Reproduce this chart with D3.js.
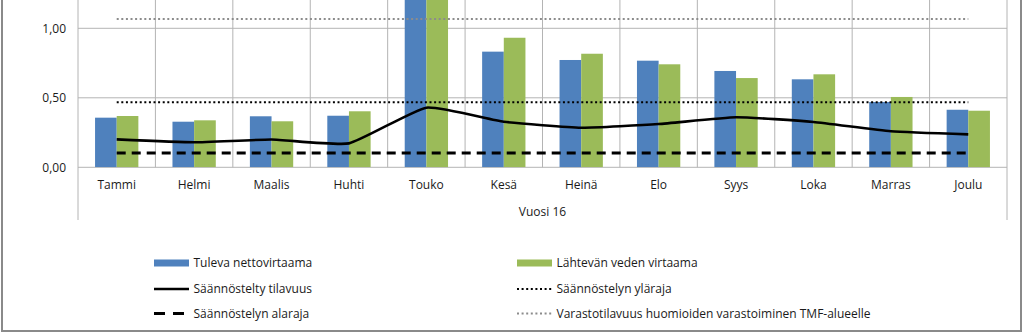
<!DOCTYPE html>
<html><head><meta charset="utf-8">
<script src="https://cdn.jsdelivr.net/npm/d3@7"></script>
<style>
html,body{margin:0;padding:0;background:#fff;}
svg{display:block;font-family:"Open Sans",sans-serif;}
</style></head>
<body>
<svg id="c" width="1024" height="334"></svg>
<script>
const months = ["Tammi","Helmi","Maalis","Huhti","Touko","Kesä","Heinä","Elo","Syys","Loka","Marras","Joulu"];
const tulevaNetto = [0.357,0.328,0.367,0.371,1.6,0.832,0.772,0.767,0.693,0.633,0.470,0.414];
const lahtevaVesi = [0.369,0.338,0.331,0.403,1.6,0.932,0.817,0.741,0.642,0.669,0.506,0.407];
const saannosteltyTilavuus = [0.201,0.180,0.200,0.172,0.429,0.328,0.285,0.311,0.360,0.326,0.259,0.237];
const ylaraja = [0.468,0.468,0.468,0.468,0.468,0.468,0.468,0.468,0.468,0.468,0.468,0.468];
const alaraja = [0.103,0.103,0.103,0.103,0.103,0.103,0.103,0.103,0.103,0.103,0.103,0.103];
const varastoTMF = [1.067,1.067,1.067,1.067,1.067,1.067,1.067,1.067,1.067,1.067,1.067,1.067];
const yTicks = [0,0.5,1.0];
const yTickLabels = ["0,00","0,50","1,00"];
const groupLabel = "Vuosi 16";
const seriesNames = ["Tuleva nettovirtaama","Lähtevän veden virtaama","Säännöstelty tilavuus","Säännöstelyn yläraja","Säännöstelyn alaraja","Varastotilavuus huomioiden varastoiminen TMF-alueelle"];

const svg = d3.select("#c");
const L = 78, R = 1007, T = 0, B = 167.3, axisBottom = 220;
const BLUE = "#4F81BD", GREEN = "#9BBB59", GRID = "#b4b4b4", TXT = "#1a1a1a";

const x = d3.scaleBand().domain(months).range([L, R]).padding(0);
const x1 = d3.scaleBand().domain(["a","b"]).range([0, x.bandwidth()]).paddingInner(0).paddingOuter(0.7875);
const y = d3.scaleLinear().domain([0, 1.2]).range([B, 0.5]);

// outer frame
svg.append("rect").attr("x",2).attr("y",-5).attr("width",1019).attr("height",336)
  .attr("fill","none").attr("stroke","#8a8a8a").attr("stroke-width",2);

svg.append("clipPath").attr("id","clip").append("rect")
  .attr("x",L).attr("y",T).attr("width",R-L).attr("height",B-T);

// grid horizontal
svg.append("g").selectAll("line").data(yTicks).join("line")
  .attr("x1",L).attr("x2",R).attr("y1",d=>y(d)).attr("y2",d=>y(d))
  .attr("stroke",GRID).attr("stroke-width",1);
// vertical category separators
svg.append("g").selectAll("line").data(months.slice(1)).join("line")
  .attr("x1",d=>x(d)).attr("x2",d=>x(d)).attr("y1",T).attr("y2",B)
  .attr("stroke",GRID).attr("stroke-width",1);
// outer plot verticals extending to group axis
svg.append("line").attr("x1",L).attr("x2",L).attr("y1",T).attr("y2",axisBottom).attr("stroke",GRID);
svg.append("line").attr("x1",R).attr("x2",R).attr("y1",T).attr("y2",axisBottom).attr("stroke",GRID);

// y tick labels
svg.append("g").selectAll("text").data(yTicks).join("text")
  .attr("x",66).attr("y",d=>y(d)).attr("dy","0.35em").attr("text-anchor","end")
  .attr("font-size",12).attr("fill",TXT).text((d,i)=>yTickLabels[i]);

// bars
const gb = svg.append("g").attr("clip-path","url(#clip)");
gb.selectAll("rect.a").data(months).join("rect").attr("class","a")
  .attr("x",d=>x(d)+x1("a")).attr("width",x1.bandwidth())
  .attr("y",(d,i)=>y(tulevaNetto[i])).attr("height",(d,i)=>y(0)-y(tulevaNetto[i]))
  .attr("fill",BLUE);
gb.selectAll("rect.b").data(months).join("rect").attr("class","b")
  .attr("x",d=>x(d)+x1("b")).attr("width",x1.bandwidth())
  .attr("y",(d,i)=>y(lahtevaVesi[i])).attr("height",(d,i)=>y(0)-y(lahtevaVesi[i]))
  .attr("fill",GREEN);

const cx = d => x(d) + x.bandwidth()/2;
const lineGen = (arr, curve) => d3.line().x((d,i)=>cx(months[i])).y(d=>y(d)).curve(curve)(arr);

svg.append("path").attr("d",lineGen(varastoTMF,d3.curveLinear)).attr("fill","none")
  .attr("stroke","#8c8c8c").attr("stroke-width",2).attr("stroke-dasharray","2 2.6");
svg.append("path").attr("d",lineGen(ylaraja,d3.curveLinear)).attr("fill","none")
  .attr("stroke","#000").attr("stroke-width",2.2).attr("stroke-dasharray","2 2.6");
svg.append("path").attr("d",lineGen(alaraja,d3.curveLinear)).attr("fill","none")
  .attr("stroke","#000").attr("stroke-width",3).attr("stroke-dasharray","9 6");
svg.append("path").attr("d",lineGen(saannosteltyTilavuus,d3.curveCardinal.tension(0.55))).attr("fill","none")
  .attr("stroke","#000").attr("stroke-width",2.6).attr("stroke-linejoin","round");

// x labels
svg.append("g").selectAll("text").data(months).join("text")
  .attr("x",d=>cx(d)).attr("y",185).attr("dy","0.35em").attr("text-anchor","middle")
  .attr("font-size",12).attr("fill",TXT).text(d=>d);
svg.append("text").attr("x",(L+R)/2).attr("y",211.5).attr("dy","0.35em").attr("text-anchor","middle")
  .attr("font-size",12).attr("fill",TXT).text(groupLabel);

// legend
const leg = [
  {col:0,row:0,type:"rect",color:BLUE},
  {col:1,row:0,type:"rect",color:GREEN},
  {col:0,row:1,type:"line",color:"#000",w:2.6,dash:null},
  {col:1,row:1,type:"line",color:"#000",w:2.2,dash:"2 2.6"},
  {col:0,row:2,type:"line",color:"#000",w:3,dash:"11 8"},
  {col:1,row:2,type:"line",color:"#8c8c8c",w:2,dash:"2 2.6"}
];
const colX = [154, 517], rowY = [263, 289, 313.5];
const lg = svg.append("g");
leg.forEach((e,i)=>{
  const x0 = colX[e.col], yy = rowY[e.row];
  if(e.type==="rect"){
    lg.append("rect").attr("x",x0).attr("y",yy-3.5).attr("width",35).attr("height",7).attr("fill",e.color);
  } else {
    lg.append("line").attr("x1",x0).attr("x2",x0+35).attr("y1",yy).attr("y2",yy)
      .attr("stroke",e.color).attr("stroke-width",e.w).attr("stroke-dasharray",e.dash);
  }
  lg.append("text").attr("x",x0+39.5).attr("y",yy).attr("dy","0.35em")
    .attr("font-size",12).attr("fill",TXT).text(seriesNames[i]);
});
</script>
</body></html>
